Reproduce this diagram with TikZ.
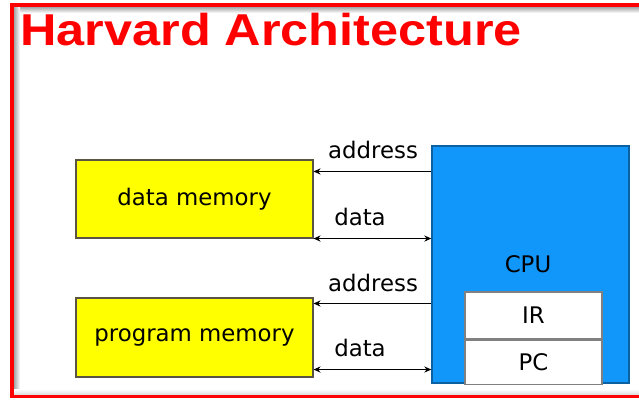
\documentclass[tikz,border=0pt]{standalone}
\usepackage{fontspec}
\usepackage{xcolor}
\usepackage{tikz}
\usetikzlibrary{arrows.meta}
\setmainfont{DejaVu Sans}
\newfontfamily\titlefont{Liberation Sans}
\definecolor{cpublue}{RGB}{17,150,250}
\definecolor{memyellow}{RGB}{255,255,0}
\tikzset{
    membox/.style={draw=black!75!yellow, fill=memyellow, line width=0.6pt, minimum width=4.74cm, font=\fontsize{13}{15}\selectfont},
    regbox/.style={draw=gray, fill=white, line width=0.8pt, minimum width=2.74cm, font=\fontsize{13}{15}\selectfont},
    bus/.style={line width=0.8pt},
    buslabel/.style={font=\fontsize{13}{15}\selectfont, inner sep=0pt, anchor=base},
}

\begin{document}
\begin{tikzpicture}[x=0.02cm, y=-0.02cm, >={Stealth[length=4pt,width=3.5pt]}]
                \useasboundingbox (0,0) rectangle (639,400);
                % frame
                \shade[top color=gray!70, bottom color=white] (14,7) rectangle (639,13);
                \shade[left color=gray!70, right color=white] (14,7) rectangle (20,394);
                \shade[top color=white, bottom color=gray!30] (14,389) rectangle (639,395);
                \fill[red] (10,3) rectangle (639,7);
                \fill[red] (10,3) rectangle (14,398);
                \fill[red] (10,395) rectangle (639,398);
                \node[anchor=base west, inner sep=0pt, text=red, font=\titlefont\bfseries\fontsize{25.4}{30}\selectfont] (title) at (20,45) {\scalebox{1.13}[1]{Harvard Architecture}};
                % memories
                \node[membox, minimum height=1.56cm] (dmem) at (194.5,199) {data memory};
                \node[membox, minimum height=1.58cm] (pmem) at (194.5,337.5) {program memory};
                % cpu
                \node[draw=cpublue!65!black, line width=0.8pt, fill=cpublue, minimum width=3.94cm, minimum height=4.74cm] (cpu) at (530.5,264.5) {};
                \node[buslabel] (cpulabel) at (528,272) {CPU};
                \node[regbox, minimum height=0.94cm] (ir) at (533.5,315.5) {IR};
                \node[regbox, minimum height=0.88cm, anchor=north] (pc) at (ir.south) {PC};
                % buses
                \coordinate (da) at ([yshift=-0.24cm]dmem.north east);
                \coordinate (dd) at (dmem.south east);
                \coordinate (pa) at ([yshift=-0.12cm]pmem.north east);
                \coordinate (pd) at ([yshift=0.16cm]pmem.south east);
                \draw[bus,<-] (da) -- (da -| cpu.west);
                \draw[bus,<->] (dd) -- (dd -| cpu.west);
                \draw[bus,<-] (pa) -- (pa -| cpu.west);
                \draw[bus,<->] (pd) -- (pd -| cpu.west);
                \node[buslabel] (daddr) at (373,158) {address};
                \node[buslabel] (ddata) at (360,225) {data};
                \node[buslabel] (paddr) at (373,291) {address};
                \node[buslabel] (pdata) at (360,356) {data};
            \end{tikzpicture}
\end{document}
